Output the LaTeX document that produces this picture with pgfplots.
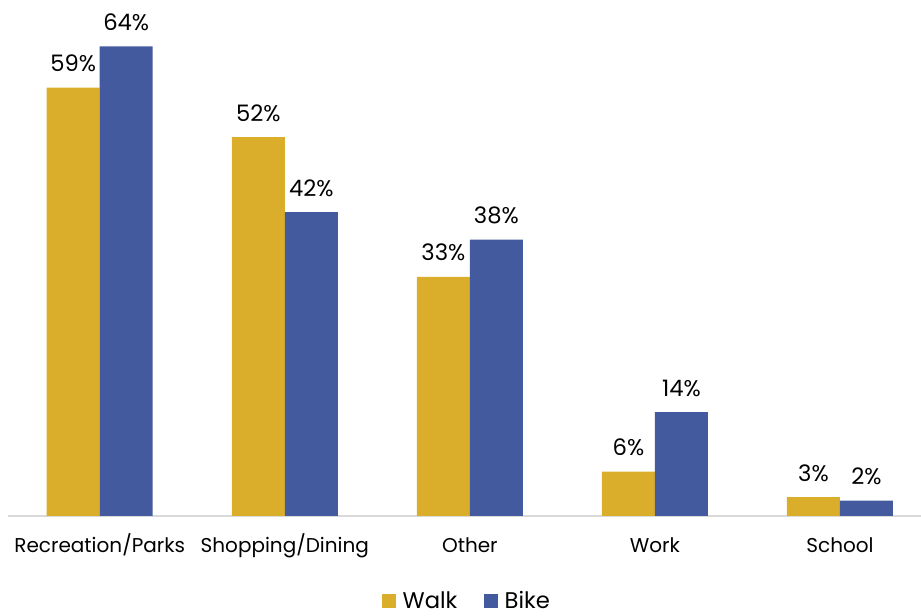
\documentclass[border=0pt]{standalone}
\usepackage{fontspec}
\setmainfont{Poppins}
\usepackage{pgfplots}
\pgfplotsset{compat=1.18}
\definecolor{walk}{RGB}{218,174,43}
\definecolor{bike}{RGB}{67,90,159}
\definecolor{axisgray}{RGB}{217,217,217}
\begin{document}
\begin{tikzpicture}
\begin{axis}[
  at={(0,0)}, anchor=south west,
  scale only axis, width=684.75pt, height=381.75pt,
  ymin=0, ymax=70, xmin=-0.4957, xmax=4.4378,
  ybar=0pt, bar width=39.75pt,
  separate axis lines,
  axis x line*=bottom, axis y line=none,
  x axis line style={draw=axisgray, line width=1pt, -},
  xtick={0,1,2,3,4},
  xticklabels={Recreation/Parks, Shopping/Dining, Other, Work, School},
  major tick length=0pt, ytick=\empty,
  xticklabel style={anchor=base, yshift=-27.75pt, font=\fontsize{15}{18}\selectfont},
  nodes near coords,
  point meta=explicit symbolic,
  every node near coord/.append style={anchor=base, inner sep=0pt, yshift=12pt, font=\fontsize{17}{20}\selectfont, black},
  legend style={at={(0.503,-0.167)}, anchor=center, draw=none, legend columns=2,
    font=\fontsize{17}{20}\selectfont,
    /tikz/every even column/.append style={column sep=18pt}},
  legend image code/.code={\fill[#1] (0pt,-5.25pt) rectangle (10.5pt,5.25pt); \path (13.5pt,0pt);},
  clip=false,
]
\addplot[fill=walk, draw=none] coordinates {(0,58.9)[59\%] (1,52.1)[52\%] (2,32.9)[33\%] (3,6.1)[6\%] (4,2.6)[3\%]};
\addplot[fill=bike, draw=none] coordinates {(0,64.6)[64\%] (1,41.8)[42\%] (2,38.0)[38\%] (3,14.3)[14\%] (4,2.1)[2\%]};
\legend{Walk, Bike}
\end{axis}
\pgfresetboundingbox
\path[use as bounding box] (-6pt,-75pt) rectangle (684.75pt,387pt);
\end{tikzpicture}
\end{document}
